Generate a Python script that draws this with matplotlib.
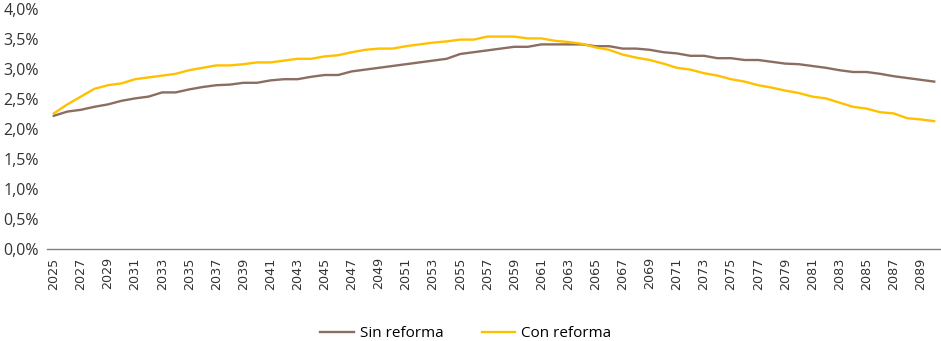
import numpy as np
from matplotlib import pyplot as plt

# Data (% values)
years = list(range(2025, 2091))

sin_reforma = [
    2.22, 2.29, 2.32, 2.37, 2.41, 2.47, 2.51, 2.54, 2.61, 2.61,
    2.66, 2.70, 2.73, 2.74, 2.77, 2.77, 2.81, 2.83, 2.83, 2.87,
    2.90, 2.90, 2.96, 2.99, 3.02, 3.05, 3.08, 3.11, 3.14, 3.17,
    3.25, 3.28, 3.31, 3.34, 3.37, 3.37, 3.41, 3.41, 3.41, 3.41,
    3.38, 3.38, 3.34, 3.34, 3.32, 3.28, 3.26, 3.22, 3.22, 3.18,
    3.18, 3.15, 3.15, 3.12, 3.09, 3.08, 3.05, 3.02, 2.98, 2.95,
    2.95, 2.92, 2.88, 2.85, 2.82, 2.79,
]

con_reforma = [
    2.26, 2.41, 2.54, 2.67, 2.73, 2.76, 2.83, 2.86, 2.89, 2.92,
    2.98, 3.02, 3.06, 3.06, 3.08, 3.11, 3.11, 3.14, 3.17, 3.17,
    3.21, 3.23, 3.28, 3.32, 3.34, 3.34, 3.38, 3.41, 3.44, 3.46,
    3.49, 3.49, 3.54, 3.54, 3.54, 3.51, 3.51, 3.47, 3.45, 3.42,
    3.36, 3.32, 3.24, 3.19, 3.15, 3.09, 3.02, 2.99, 2.93, 2.89,
    2.83, 2.79, 2.73, 2.69, 2.64, 2.60, 2.54, 2.51, 2.44, 2.37,
    2.34, 2.28, 2.26, 2.18, 2.16, 2.13,
]

y_ticks = [0.0, 0.5, 1.0, 1.5, 2.0, 2.5, 3.0, 3.5, 4.0]
y_labels = [f'{v:.1f}%'.replace('.', ',') for v in y_ticks]

brown = '#8c6d62'
gold = '#ffc000'

fig = plt.figure(figsize=(9.41, 3.41), dpi=100)
ax = fig.add_axes([47 / 941, 92 / 341, 894 / 941, 240 / 341])

ax.plot(years, sin_reforma, color=brown, linewidth=1.7, label='Sin reforma')
ax.plot(years, con_reforma, color=gold, linewidth=1.7, label='Con reforma')

ax.set_xlim(years[0] - 0.5, years[-1] + 0.5)
ax.set_ylim(0, 4.0)

ax.set_yticks(y_ticks)
ax.set_yticklabels(y_labels, fontsize=11.5, family='Open Sans', color='#333333')
ax.set_xticks(years[::2])
ax.set_xticklabels([str(y) for y in years[::2]], rotation=90, fontsize=9.2,
                   family='DejaVu Sans', color='#333333')
ax.tick_params(axis='both', length=0)
ax.tick_params(axis='x', pad=6)
ax.tick_params(axis='y', pad=6)

for side in ['top', 'right', 'left']:
    ax.spines[side].set_visible(False)
ax.spines['bottom'].set_color('#808080')
ax.spines['bottom'].set_linewidth(1.0)

fig.legend(loc='lower center', bbox_to_anchor=(0.495, -0.04), ncol=2, frameon=False,
           prop={'family': 'Open Sans', 'size': 11}, handlelength=2.2,
           columnspacing=2.5, handletextpad=0.4)

fig.savefig('out.png', dpi=100)
